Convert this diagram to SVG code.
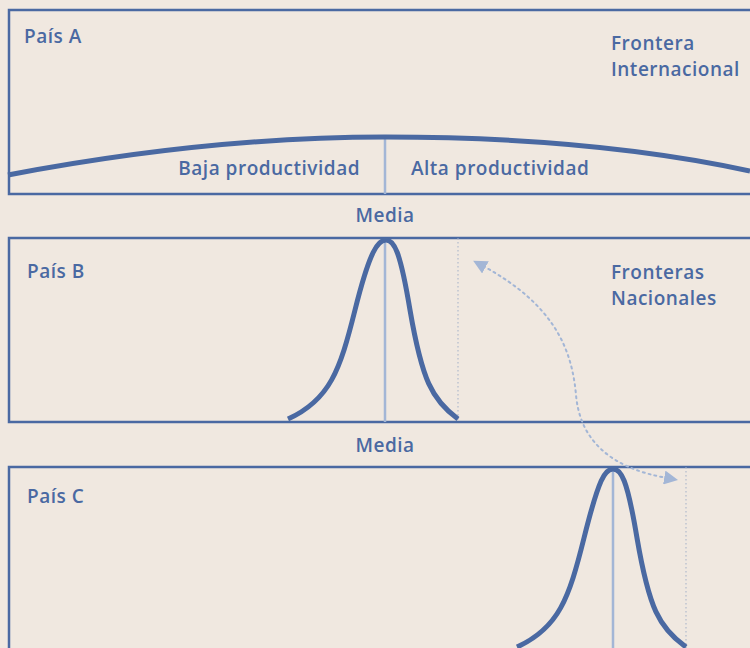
<svg xmlns="http://www.w3.org/2000/svg" width="750" height="648" viewBox="0 0 750 648">
<style>
.bg{fill:#f0e8e0}
.box{fill:none;stroke:#4a69a2;stroke-width:2.5}
.curve{fill:none;stroke:#4a69a2;stroke-width:5;stroke-linecap:butt}
.mean{stroke:#a3b6d6;stroke-width:2.5}
.front{stroke:#a3b0c8;stroke-width:1;stroke-dasharray:1.5 2.5}
.lbl{font-family:"Open Sans","Noto Sans",sans-serif;font-size:19px;letter-spacing:0.5px;font-weight:600;fill:#4a69a2}
.arr{fill:none;stroke:#a3b6d6;stroke-width:2;stroke-dasharray:2 4;stroke-linecap:round}
</style>
<defs>
<marker id="ah" viewBox="0 0 10 10" refX="2" refY="5" markerWidth="7" markerHeight="7" orient="auto-start-reverse" markerUnits="strokeWidth">
<path d="M0,0 L10,5 L0,10 Z" fill="#a3b6d6"/>
</marker>
</defs>
<rect class="bg" x="0" y="0" width="750" height="648"/>
<g id="paisA">
<rect class="box" x="9" y="10" width="750" height="184"/>
<line class="mean" x1="385" y1="137" x2="385" y2="194"/>
<path class="curve" d="M8,175 C150,148 270,137 385,137 C500,137 630,145 750,171"/>
<text class="lbl" x="24" y="43">País A</text>
<text class="lbl" x="611" y="50">Frontera</text>
<text class="lbl" x="611" y="76">Internacional</text>
<text class="lbl" x="360" y="175" text-anchor="end">Baja productividad</text>
<text class="lbl" x="411" y="175">Alta productividad</text>
<text class="lbl" x="385" y="222" text-anchor="middle">Media</text>
</g>
<g id="paisB">
<rect class="box" x="9" y="238" width="750" height="184"/>
<line class="mean" x1="385" y1="240" x2="385" y2="422"/>
<line class="front" x1="458" y1="238" x2="458" y2="420"/>
<path class="curve" d="M288,419 C330,400 340,370 355,310 C370,250 378,240 386,240 C394,240 400,250 410,310 C422,380 432,400 458,419"/>
<text class="lbl" x="27" y="278">País B</text>
<text class="lbl" x="611" y="279">Fronteras</text>
<text class="lbl" x="611" y="305">Nacionales</text>
<text class="lbl" x="385" y="452" text-anchor="middle">Media</text>
</g>
<g id="paisC">
<rect class="box" x="9" y="467" width="750" height="200"/>
<line class="mean" x1="613" y1="469" x2="613" y2="648"/>
<line class="front" x1="686" y1="467" x2="686" y2="648"/>
<path class="curve" d="M517,647 C559,628 569,598 584,538 C599,478 605,469 613,469 C621,469 627,478 637,538 C649,608 659,628 686,647"/>
<text class="lbl" x="27" y="503">País C</text>
</g>
<g id="connectors">
<path class="arr" d="M483,266 C555,305 572,350 576,395 C580,440 610,468 667,478" marker-start="url(#ah)" marker-end="url(#ah)"/>
</g>
</svg>
